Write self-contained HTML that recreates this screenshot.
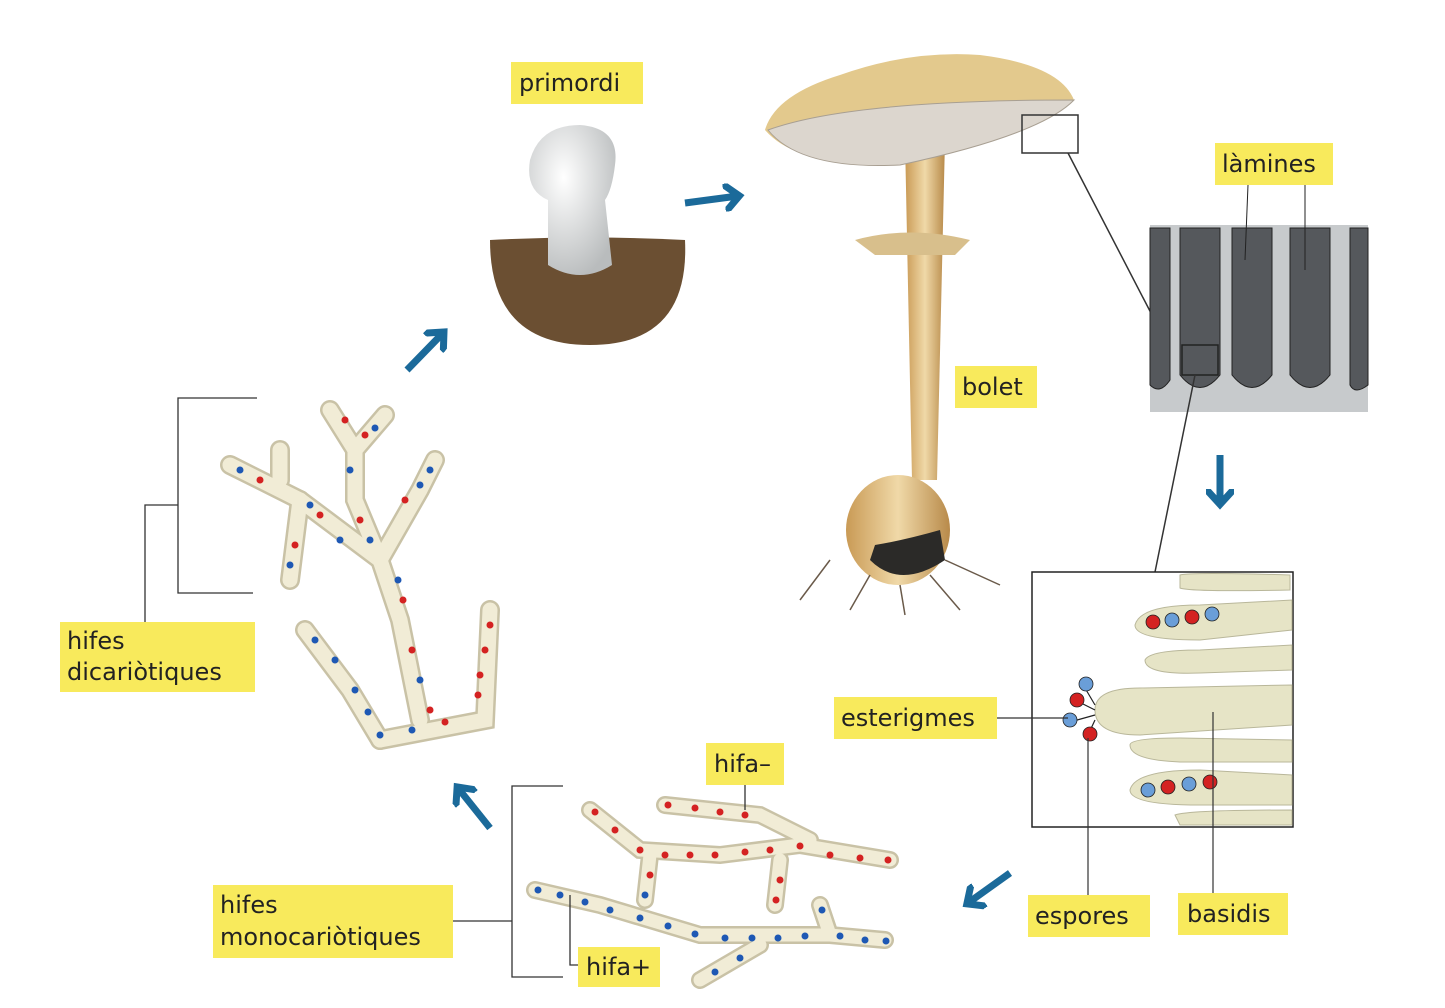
<!DOCTYPE html>
<html><head><meta charset="utf-8"><style>
body{margin:0;background:#fff;}
svg{display:block}
.l{font-family:"DejaVu Sans","Liberation Sans",sans-serif;font-size:24px;fill:#222}
</style></head><body>
<svg width="1445" height="1008" viewBox="0 0 1445 1008" xmlns="http://www.w3.org/2000/svg">
<defs>
<marker id="ah" markerWidth="4" markerHeight="4" refX="2" refY="2" orient="auto" markerUnits="strokeWidth"><path d="M0,0 L2.2,2 L0,4" fill="none" stroke="#1b6a9a" stroke-width="1"/></marker>
<radialGradient id="wh" cx="0.4" cy="0.35" r="0.7"><stop offset="0" stop-color="#fff"/><stop offset="1" stop-color="#b9bcbd"/></radialGradient>
<linearGradient id="st" x1="0" x2="1"><stop offset="0" stop-color="#c99a55"/><stop offset="0.5" stop-color="#f0d9a8"/><stop offset="1" stop-color="#b88a4a"/></linearGradient>
</defs>
<rect width="1445" height="1008" fill="#fff"/>

<!-- primordi -->
<path d="M490,240 Q590,235 685,240 Q690,345 590,345 Q490,345 490,240Z" fill="#6b4f32"/>
<path d="M548,200 Q525,190 530,160 Q540,125 580,125 Q620,128 615,165 Q612,190 605,200 L612,265 Q580,285 548,265Z" fill="url(#wh)"/>

<!-- mushroom -->
<path d="M905,140 L945,140 L937,480 L912,480Z" fill="url(#st)"/>
<path d="M855,240 Q910,225 970,240 L955,255 L875,255Z" fill="#d8bf8c"/>
<ellipse cx="898" cy="530" rx="52" ry="55" fill="url(#st)"/>
<path d="M870,560 Q900,590 945,560 L940,530 Q905,540 875,545Z" fill="#2b2a28"/>
<path d="M830,560 L800,600 M870,575 L850,610 M930,575 L960,610 M945,560 L1000,585 M900,585 L905,615" stroke="#6a5a4a" stroke-width="1.5"/>
<path d="M765,130 Q775,95 840,75 Q910,50 980,55 Q1060,65 1074,100 Q1000,140 900,160 Q800,170 765,130Z" fill="#e3c98d"/>
<path d="M768,130 Q850,100 1074,100 Q1040,135 900,165 Q800,170 768,130Z" fill="#dcd6ce" stroke="#a89f92"/>
<rect x="1022" y="115" width="56" height="38" fill="none" stroke="#333" stroke-width="1.5"/>
<line x1="1068" y1="153" x2="1152" y2="315" stroke="#333" stroke-width="1.5"/>

<!-- lamines -->
<rect x="1150" y="225" width="218" height="187" fill="#c7cacc"/>
<g fill="#55585c" stroke="#222">
<path d="M1150,228 L1170,228 L1170,380 Q1160,395 1150,385Z"/>
<path d="M1180,228 L1220,228 L1220,375 Q1200,400 1180,375Z"/>
<path d="M1232,228 L1272,228 L1272,375 Q1252,400 1232,375Z"/>
<path d="M1290,228 L1330,228 L1330,375 Q1310,400 1290,375Z"/>
<path d="M1350,228 L1368,228 L1368,385 Q1355,395 1350,385Z"/>
</g>
<rect x="1182" y="345" width="36" height="30" fill="none" stroke="#222" stroke-width="1.5"/>
<line x1="1248" y1="185" x2="1245" y2="260" stroke="#222"/>
<line x1="1305" y1="185" x2="1305" y2="270" stroke="#222"/>
<line x1="1195" y1="375" x2="1155" y2="572" stroke="#333" stroke-width="1.5"/>

<!-- basidia -->
<rect x="1032" y="572" width="261" height="255" fill="#fff" stroke="#222" stroke-width="1.5"/>
<g fill="#e6e4c6" stroke="#b9b79a">
<path d="M1180,575 Q1190,572 1290,575 L1290,590 Q1190,592 1180,588Z"/>
<path d="M1135,625 Q1140,605 1200,605 L1292,600 L1292,630 L1200,640 Q1135,640 1135,625Z"/>
<path d="M1145,660 Q1150,650 1200,650 L1292,645 L1292,670 L1200,673 Q1145,675 1145,660Z"/>
<path d="M1095,710 Q1095,688 1140,688 L1292,685 L1292,725 L1140,735 Q1095,735 1095,710Z"/>
<path d="M1130,745 Q1130,738 1180,738 L1292,740 L1292,762 L1180,762 Q1130,760 1130,745Z"/>
<path d="M1130,790 Q1135,770 1200,770 L1292,775 L1292,805 L1200,805 Q1130,805 1130,790Z"/>
<path d="M1175,815 Q1190,810 1292,810 L1292,825 L1180,825Z"/>
</g>
<g stroke="#222" stroke-width="1.2" fill="none"><path d="M1095,705 L1085,688 M1095,710 L1075,700 M1095,715 L1070,722 M1095,720 L1088,735"/></g>
<g stroke="#222" stroke-width="0.8">
<circle cx="1153" cy="622" r="7" fill="#d42222"/><circle cx="1172" cy="620" r="7" fill="#6a9ed8"/><circle cx="1192" cy="617" r="7" fill="#d42222"/><circle cx="1212" cy="614" r="7" fill="#6a9ed8"/>
<circle cx="1086" cy="684" r="7" fill="#6a9ed8"/><circle cx="1077" cy="700" r="7" fill="#d42222"/><circle cx="1070" cy="720" r="7" fill="#6a9ed8"/><circle cx="1090" cy="734" r="7" fill="#d42222"/>
<circle cx="1148" cy="790" r="7" fill="#6a9ed8"/><circle cx="1168" cy="787" r="7" fill="#d42222"/><circle cx="1189" cy="784" r="7" fill="#6a9ed8"/><circle cx="1210" cy="782" r="7" fill="#d42222"/>
</g>
<g stroke="#333" stroke-width="1.2" fill="none">
<path d="M997,718 L1068,718"/><path d="M1088,738 L1088,895"/><path d="M1213,712 L1213,893"/>
</g>

<!-- arrows -->
<g stroke="#1b6a9a" stroke-width="7" fill="none" marker-end="url(#ah)">
<line x1="685" y1="203" x2="738" y2="196"/>
<line x1="407" y1="370" x2="443" y2="333"/>
<line x1="1220" y1="455" x2="1220" y2="503"/>
<line x1="1010" y1="873" x2="968" y2="903"/>
<line x1="490" y1="828" x2="458" y2="788"/>
</g>

<!-- dikaryotic hyphae -->
<g stroke="#c9c2a6" stroke-width="20" stroke-linecap="round" fill="none">
<path d="M380,740 L485,720 L490,610"/>
<path d="M380,740 L350,690 L305,630"/>
<path d="M420,720 L400,620 L380,560 L355,500 L355,450 L330,410"/>
<path d="M355,450 L385,415"/>
<path d="M380,560 L420,490 L435,460"/>
<path d="M380,560 L300,500 L230,465"/>
<path d="M280,480 L280,450"/>
<path d="M300,500 L290,580"/>
</g>
<g stroke="#f1ecd6" stroke-width="15" stroke-linecap="round" fill="none">
<path d="M380,740 L485,720 L490,610"/>
<path d="M380,740 L350,690 L305,630"/>
<path d="M420,720 L400,620 L380,560 L355,500 L355,450 L330,410"/>
<path d="M355,450 L385,415"/>
<path d="M380,560 L420,490 L435,460"/>
<path d="M380,560 L300,500 L230,465"/>
<path d="M280,480 L280,450"/>
<path d="M300,500 L290,580"/>
</g>
<g fill="#d42222"><circle cx="490" cy="625" r="3.5"/><circle cx="485" cy="650" r="3.5"/><circle cx="480" cy="675" r="3.5"/><circle cx="478" cy="695" r="3.5"/><circle cx="445" cy="722" r="3.5"/><circle cx="412" cy="650" r="3.5"/><circle cx="403" cy="600" r="3.5"/><circle cx="360" cy="520" r="3.5"/><circle cx="345" cy="420" r="3.5"/><circle cx="405" cy="500" r="3.5"/><circle cx="320" cy="515" r="3.5"/><circle cx="260" cy="480" r="3.5"/><circle cx="295" cy="545" r="3.5"/><circle cx="365" cy="435" r="3.5"/><circle cx="430" cy="710" r="3.5"/></g>
<g fill="#1e58b4"><circle cx="315" cy="640" r="3.5"/><circle cx="335" cy="660" r="3.5"/><circle cx="355" cy="690" r="3.5"/><circle cx="368" cy="712" r="3.5"/><circle cx="380" cy="735" r="3.5"/><circle cx="412" cy="730" r="3.5"/><circle cx="398" cy="580" r="3.5"/><circle cx="420" cy="680" r="3.5"/><circle cx="370" cy="540" r="3.5"/><circle cx="350" cy="470" r="3.5"/><circle cx="375" cy="428" r="3.5"/><circle cx="340" cy="540" r="3.5"/><circle cx="240" cy="470" r="3.5"/><circle cx="290" cy="565" r="3.5"/><circle cx="420" cy="485" r="3.5"/><circle cx="430" cy="470" r="3.5"/><circle cx="310" cy="505" r="3.5"/></g>
<path d="M257,398 L178,398 L178,593 L253,593 M178,505 L145,505 L145,622" stroke="#333" stroke-width="1.3" fill="none"/>

<!-- monokaryotic hyphae -->
<g stroke="#c9c2a6" stroke-width="18" stroke-linecap="round" fill="none">
<path d="M590,810 L640,850 L720,855 L800,845 L890,860"/>
<path d="M665,805 L760,815 L810,840"/>
<path d="M650,855 L645,900"/>
<path d="M780,860 L775,905"/>
<path d="M535,890 L600,905 L700,935 L830,935 L885,940"/>
<path d="M830,935 L820,905"/>
<path d="M760,945 L700,980"/>
</g>
<g stroke="#f1ecd6" stroke-width="13" stroke-linecap="round" fill="none">
<path d="M590,810 L640,850 L720,855 L800,845 L890,860"/>
<path d="M665,805 L760,815 L810,840"/>
<path d="M650,855 L645,900"/>
<path d="M780,860 L775,905"/>
<path d="M535,890 L600,905 L700,935 L830,935 L885,940"/>
<path d="M830,935 L820,905"/>
<path d="M760,945 L700,980"/>
</g>
<g fill="#d42222"><circle cx="595" cy="812" r="3.5"/><circle cx="615" cy="830" r="3.5"/><circle cx="640" cy="850" r="3.5"/><circle cx="665" cy="855" r="3.5"/><circle cx="690" cy="855" r="3.5"/><circle cx="715" cy="855" r="3.5"/><circle cx="745" cy="852" r="3.5"/><circle cx="770" cy="850" r="3.5"/><circle cx="800" cy="846" r="3.5"/><circle cx="830" cy="855" r="3.5"/><circle cx="860" cy="858" r="3.5"/><circle cx="888" cy="860" r="3.5"/><circle cx="668" cy="805" r="3.5"/><circle cx="695" cy="808" r="3.5"/><circle cx="720" cy="812" r="3.5"/><circle cx="745" cy="815" r="3.5"/><circle cx="780" cy="880" r="3.5"/><circle cx="776" cy="900" r="3.5"/><circle cx="650" cy="875" r="3.5"/></g>
<g fill="#1e58b4"><circle cx="538" cy="890" r="3.5"/><circle cx="560" cy="895" r="3.5"/><circle cx="585" cy="902" r="3.5"/><circle cx="610" cy="910" r="3.5"/><circle cx="640" cy="918" r="3.5"/><circle cx="668" cy="926" r="3.5"/><circle cx="695" cy="934" r="3.5"/><circle cx="725" cy="938" r="3.5"/><circle cx="752" cy="938" r="3.5"/><circle cx="778" cy="938" r="3.5"/><circle cx="805" cy="936" r="3.5"/><circle cx="840" cy="936" r="3.5"/><circle cx="865" cy="940" r="3.5"/><circle cx="886" cy="941" r="3.5"/><circle cx="822" cy="910" r="3.5"/><circle cx="740" cy="958" r="3.5"/><circle cx="715" cy="972" r="3.5"/><circle cx="645" cy="895" r="3.5"/></g>
<path d="M563,786 L512,786 L512,977 L563,977 M453,921 L512,921" stroke="#333" stroke-width="1.3" fill="none"/>
<path d="M745,785 L745,810 M570,895 L570,965 L578,965" stroke="#333" stroke-width="1.3" fill="none"/>

<!-- labels -->
<g fill="#f8ea5c">
<rect x="511" y="62" width="132" height="42"/>
<rect x="1215" y="143" width="118" height="42"/>
<rect x="955" y="366" width="82" height="42"/>
<rect x="834" y="697" width="163" height="42"/>
<rect x="1028" y="895" width="122" height="42"/>
<rect x="1178" y="893" width="110" height="42"/>
<rect x="706" y="743" width="78" height="42"/>
<rect x="578" y="947" width="82" height="40"/>
<rect x="213" y="885" width="240" height="73"/>
<rect x="60" y="622" width="195" height="70"/>
</g>
<text class="l" x="519" y="91">primordi</text>
<text class="l" x="1222" y="172">làmines</text>
<text class="l" x="962" y="395">bolet</text>
<text class="l" x="841" y="726">esterigmes</text>
<text class="l" x="1035" y="924">espores</text>
<text class="l" x="1187" y="922">basidis</text>
<text class="l" x="714" y="772">hifa–</text>
<text class="l" x="586" y="975">hifa+</text>
<text class="l" x="220" y="913">hifes</text>
<text class="l" x="220" y="945">monocariòtiques</text>
<text class="l" x="67" y="649">hifes</text>
<text class="l" x="67" y="680">dicariòtiques</text>
</svg>
</body></html>
